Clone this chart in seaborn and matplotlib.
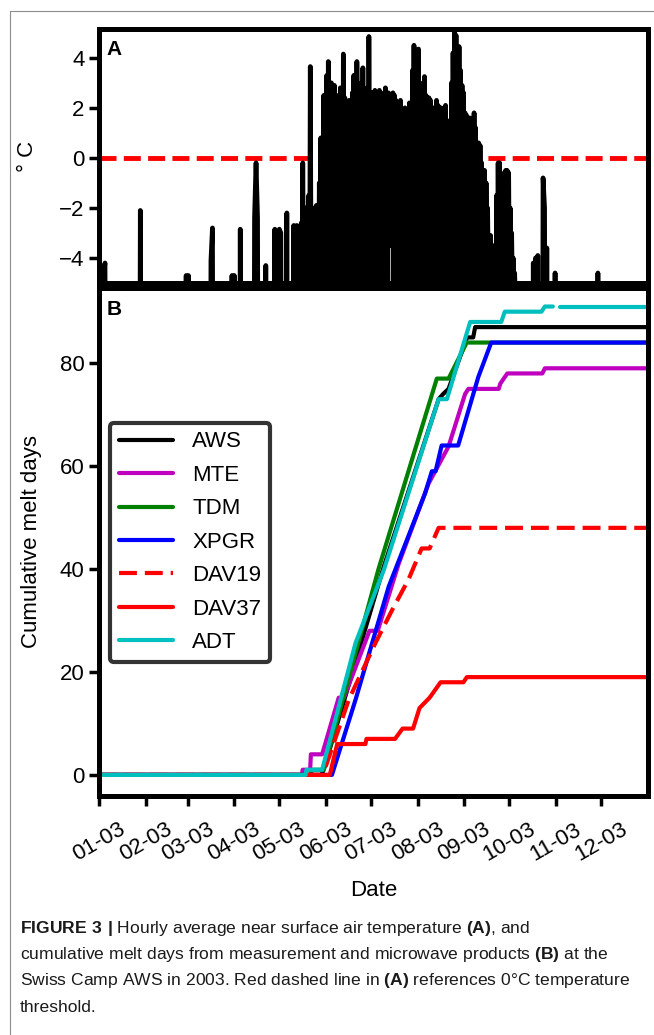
import numpy as np
import pandas as pd
import matplotlib
matplotlib.use("Agg")
import matplotlib.pyplot as plt
import matplotlib.dates as mdates
from matplotlib.lines import Line2D
import seaborn as sns

YEAR_START = pd.Timestamp("2003-01-01")

# ---------------- panel A: hourly air temperature (deg C) ----------------
# melt season, read as one daily minimum and one daily maximum per day
summer_first_doy = 130
daily_max = [
    -2.7, -2.8, -2.7, -4.3, -3.5, -2.6, -0.2, -2.5, -2.0, -2.2, -1.5,   # 130-140
    3.65, -2.0, -2.2, -2.0, -1.9, -2.1, -1.0, 0.8, 0.7, 2.5,            # 141-150
    1.5, 3.3, 3.85, 2.9, 3.0, 2.6, 2.9, 2.5, 2.2, 2.5,                  # 151-160
    2.8, 2.3, 4.15, 2.4, 2.2, 2.0, 2.3, 1.8, 2.6, 3.3,                  # 161-170
    3.0, 3.85, 1.0, 2.7, 3.0, 3.6, 2.2, 1.2, 2.8, 4.85,                 # 171-180
    2.3, 2.6, 2.4, 2.7, 2.6, 2.3, 2.7, 2.5, 2.2, 2.6,                   # 181-190
    2.8, 2.4, 2.6, 2.5, 2.2, 2.6, 2.5, 2.3, 1.5, 2.0,                   # 191-200
    2.3, 1.8, 1.2, 2.0, 1.7, 1.2, 2.2, 2.0, 3.5, 4.5,                   # 201-210
    4.3, 2.5, 4.35, 3.0, 2.4, 1.5, 3.25, 2.5, 2.3, 2.4,                 # 211-220
    2.3, 1.6, 2.0, 1.5, 2.3, 2.1, 1.4, 2.0, 1.0, 2.0,                   # 221-230
    2.1, 1.0, 0.9, 1.5, 3.0, 4.2, 5.0, 4.9, 4.4, 4.45,                  # 231-240
    3.5, 2.9, 2.6, 1.8, 1.7, 1.5, 1.6, 1.2, 1.0, 1.8,                   # 241-250
    1.2, 0.6, 0.6, 0.5, -0.2, -0.5, -0.5, -1.0, -2.0, -3.1,             # 251-260
    -3.1, -3.5, -4.0, -3.5, -1.5, -0.2, -0.2, -1.2, -3.0, -0.6,         # 261-270
    -0.5, -0.5, -0.6, -2.0, -3.0, -4.0, -4.6, -6.0, -6.0,               # 271-279
]
daily_min = [
    -6.0, -6.0, -5.5, -6.0, -6.0, -5.5, -4.5, -6.0, -5.5, -6.0, -5.5,   # 130-140
    -5.5, -6.0, -5.5, -6.0, -5.5, -6.0, -5.5, -4.5, -5.5, -5.5,         # 141-150
    -5.5, -6.0, -5.5, -5.5, -5.5, -3.2, -3.1, -5.5, -5.5, -5.5,         # 151-160
    -5.5, -6.0, -5.5, -3.6, -3.6, -5.5, -5.5, -5.5, -5.5, -2.8,         # 161-170
    -5.5, -5.5, 0.1, -5.5, -5.5, -5.5, -5.5, -5.5, -5.5, -5.5,          # 171-180
    -5.5, -5.5, -5.5, -2.4, -2.5, -5.5, -5.5, -5.5, -5.5, -5.5,         # 181-190
    -5.5, -5.5, -5.5, -3.4, -3.5, -3.4, -5.5, -5.5, -5.5, -5.5,         # 191-200
    -5.5, -5.5, -5.5, -5.5, -3.0, -5.5, -5.5, -5.5, -5.5, -5.5,         # 201-210
    -5.5, -3.9, -5.5, -5.5, -5.5, -5.5, -5.5, -5.5, -5.5, -5.5,         # 211-220
    -5.5, -5.5, -5.5, -5.5, -5.5, -3.6, -5.5, -5.5, -5.5, -5.5,         # 221-230
    -5.5, -5.5, -5.5, -4.3, -5.5, -5.5, -5.5, -2.0, -5.5, -5.5,         # 231-240
    -5.5, -5.5, -5.5, -5.5, -5.5, -5.5, -5.5, -5.5, -5.5, -5.5,         # 241-250
    -5.5, -5.5, -5.5, -5.5, -5.5, -5.5, -5.5, -5.5, -5.5, -5.5,         # 251-260
    -5.5, -5.5, -6.0, -5.5, -5.5, -5.5, -5.5, -6.0, -5.5, -5.5,         # 261-270
    -5.5, -5.5, -5.5, -6.0, -5.5, -6.0, -6.0, -6.0, -6.0,               # 271-279
]
# short warm events outside the melt season (day of year, peak temp)
event_doy = [4, 5, 28.5, 59, 60.5, 75.5, 76.5, 89.5, 91, 95, 104.5, 105.5,
             106.5, 112, 118, 119.5, 121, 122, 126, 290, 291.5, 293, 296.5,
             297.5, 299, 304.5, 333]
event_temp = [-4.6, -4.2, -2.1, -4.7, -4.7, -4.1, -2.8, -4.7, -4.7, -2.85,
              -2.4, -0.2, -2.4, -4.3, -2.85, -3.3, -2.85, -3.0, -2.2, -4.2,
              -4.0, -3.9, -0.8, -2.0, -3.6, -4.6, -4.6]
winter_temp = -12.0  # cold background, far below the axis

# ---------------- panel B: cumulative melt days (knots) ----------------
aws_doy = [1, 149, 150.5, 190, 227, 230, 233.6, 245.9, 250, 251.3, 366]
aws_days = [0, 0, 1, 40, 73, 74, 75, 85, 85, 87, 87]
mte_doy = [1, 136, 136.5, 141.5, 142, 149.5, 160.5, 164, 181, 186.5, 200.4,
           220.3, 233.6, 244.6, 246.8, 267, 268, 272.7, 296, 297.7, 366]
mte_days = [0, 0, 1, 1, 4, 4, 15, 15, 28, 28, 41, 56.6, 63.8, 74, 75, 75, 76,
            78, 78, 79, 79]
tdm_doy = [1, 142, 142.5, 150.5, 187, 225.8, 233.6, 245.7, 366]
tdm_days = [0, 0, 1, 1, 40, 77, 77, 84, 84]
xpgr_doy = [1, 156, 171.7, 193.8, 218, 222.5, 225, 229, 240, 253.4, 262, 366]
xpgr_days = [0, 0, 14.6, 36.6, 54.7, 59, 59, 64, 64, 77.3, 84, 84]
dav19_doy = [1, 150, 151.8, 167.2, 184.9, 196, 207, 215.7, 221, 227, 366]
dav19_days = [0, 0, 1.6, 14.6, 25.6, 32, 38, 44, 44, 48, 48]
dav37_doy = [1, 154.6, 159.5, 178.3, 179, 198, 203, 210, 214.3, 221, 228.3,
             243.5, 245.8, 366]
dav37_days = [0, 0, 6, 6, 7, 7, 9, 9, 13, 15, 18, 18, 19, 19]
adt_doy = [1, 138.5, 139, 149.5, 171.7, 190.5, 227, 232.5, 248, 268.7, 271,
           295.4, 297.7, 303, 308, 366]
adt_days = [0, 0, 1, 1, 25.6, 39.8, 73, 73, 88, 88, 90, 90, 91, 91, 91, 91]
adt_seg = [0] * 14 + [1] * 2   # data gap in early November

products = ["AWS", "MTE", "TDM", "XPGR", "DAV19", "DAV37", "ADT"]
colors = ["#000000", "#bf00bf", "#008000", "#0000ff", "#ff0000", "#ff0000", "#00bfbf"]
dashed = [False, False, False, False, True, False, False]
month_ticks = pd.date_range("2003-01-01", "2003-12-01", freq="MS")


def to_date(doy):
    return YEAR_START + pd.to_timedelta(np.asarray(doy, dtype=float) - 1, unit="D")


# build the temperature trace
pts = []
for i, (lo, hi) in enumerate(zip(daily_min, daily_max)):
    d = summer_first_doy + i
    pts.append((d + 0.2, lo))
    pts.append((d + 0.6, hi))
pts += list(zip(event_doy, event_temp))
pts.sort()
trace = [(1.0, winter_temp)]
for p in pts:
    prev = trace[-1]
    if p[0] - prev[0] > 1.2:
        if prev[1] != winter_temp:
            trace.append((prev[0] + 0.4, winter_temp))
        trace.append((p[0] - 0.4, winter_temp))
    trace.append(p)
trace.append((trace[-1][0] + 0.4, winter_temp))
trace.append((366.0, winter_temp))
temp_df = pd.DataFrame(trace, columns=["doy", "temp"])
temp_df["date"] = to_date(temp_df["doy"])

melt = {
    "AWS": (aws_doy, aws_days, None),
    "MTE": (mte_doy, mte_days, None),
    "TDM": (tdm_doy, tdm_days, None),
    "XPGR": (xpgr_doy, xpgr_days, None),
    "DAV19": (dav19_doy, dav19_days, None),
    "DAV37": (dav37_doy, dav37_days, None),
    "ADT": (adt_doy, adt_days, adt_seg),
}

sns.set_theme(style="ticks", color_codes=False)
plt.rcParams["font.family"] = ["Liberation Sans", "DejaVu Sans"]
plt.rcParams["mathtext.fontset"] = "custom"
plt.rcParams["mathtext.rm"] = "Liberation Sans"
plt.rcParams["mathtext.bf"] = "Liberation Sans:bold"
plt.rcParams["text.color"] = "black"
plt.rcParams["axes.labelcolor"] = "black"
plt.rcParams["axes.unicode_minus"] = True

fig = plt.figure(figsize=(6.54, 10.35), dpi=100)
W, H = 654, 1035


def rect(x0, y0, x1, y1):
    return [x0 / W, 1 - y1 / H, (x1 - x0) / W, (y1 - y0) / H]


axA = fig.add_axes(rect(99, 29, 647.5, 283))
axB = fig.add_axes(rect(99, 288, 647.5, 795.5), sharex=axA)

# ---- panel A ----
axA.axhline(0, color="#ff0000", ls="--", lw=3.5, dashes=(3.5, 1.5))
sns.lineplot(data=temp_df, x="date", y="temp", color="k", lw=3.4,
             estimator=None, sort=False, ax=axA)
axA.set_ylim(-5, 5.15)
axA.set_yticks([-4, -2, 0, 2, 4])
axA.set_ylabel("° C", fontsize=16, labelpad=15)
axA.set_xlabel("")
axA.text(0.013, 0.955, "A", transform=axA.transAxes, ha="left", va="top",
         fontsize=15, fontweight="bold")

# ---- panel B ----
handles = []
for name, col, dash in zip(products, colors, dashed):
    doy, days, seg = melt[name]
    df = pd.DataFrame({"date": to_date(doy), "days": days,
                       "seg": seg if seg is not None else [0] * len(doy)})
    sns.lineplot(data=df, x="date", y="days", units="seg", estimator=None,
                 sort=False, color=col, lw=3, ax=axB,
                 linestyle="--" if dash else "-")
    h = Line2D([], [], color=col, lw=3, ls="--" if dash else "-")
    if dash:
        axB.lines[-1].set_dashes((4.3, 1.9))
        h.set_dashes((4.3, 1.9))
    handles.append(h)

axB.set_ylim(-4.0, 94.6)
axB.set_yticks([0, 20, 40, 60, 80])
axB.set_xlim(pd.Timestamp("2003-01-01"), pd.Timestamp("2004-01-01"))
axB.set_xticks(month_ticks)
axB.xaxis.set_major_formatter(mdates.DateFormatter("%m-%y"))
axB.set_xlabel("Date", fontsize=16, labelpad=10)
axB.set_ylabel("Cumulative melt days", fontsize=16, labelpad=13)
plt.setp(axB.get_xticklabels(), rotation=30, ha="center")
axB.text(0.013, 0.976, "B", transform=axB.transAxes, ha="left", va="top",
         fontsize=15, fontweight="bold")

leg = axB.legend(handles, products, loc="lower left",
                 bbox_to_anchor=(0.02, 0.263), borderaxespad=0,
                 fontsize=16, handlelength=2.45, handletextpad=0.85,
                 labelspacing=0.56, borderpad=0.4, fancybox=True,
                 framealpha=1)
leg.get_frame().set_edgecolor("#333333")
leg.get_frame().set_linewidth(3)

for ax in (axA, axB):
    for s in ax.spines.values():
        s.set_linewidth(3.6)
        s.set_color("k")
        s.set_visible(True)
    ax.tick_params(width=2.5, length=7, labelsize=16, colors="k")
    ax.grid(False)
axA.tick_params(axis="x", length=0, labelbottom=False)
axB.tick_params(axis="x", pad=10)

# journal frame and caption
fig.add_artist(Line2D([9.7 / W, 1], [1 - 10.7 / H] * 2, color="#8c8c8c", lw=0.8))
fig.add_artist(Line2D([9.7 / W] * 2, [0, 1 - 10.7 / H], color="#8c8c8c", lw=0.8))

caption = [
    r"$\mathbf{FIGURE\ 3\ |}$ Hourly average near surface air temperature $\mathbf{(A)}$, and",
    r"cumulative melt days from measurement and microwave products $\mathbf{(B)}$ at the",
    r"Swiss Camp AWS in 2003. Red dashed line in $\mathbf{(A)}$ references 0°C temperature",
    "threshold.",
]
for i, line in enumerate(caption):
    fig.text(20 / W, 1 - (928 + 26.5 * i) / H, line, ha="left", va="center",
             fontsize=12.6, color="#1a1a1a")

fig.savefig("out.png", dpi=100)
